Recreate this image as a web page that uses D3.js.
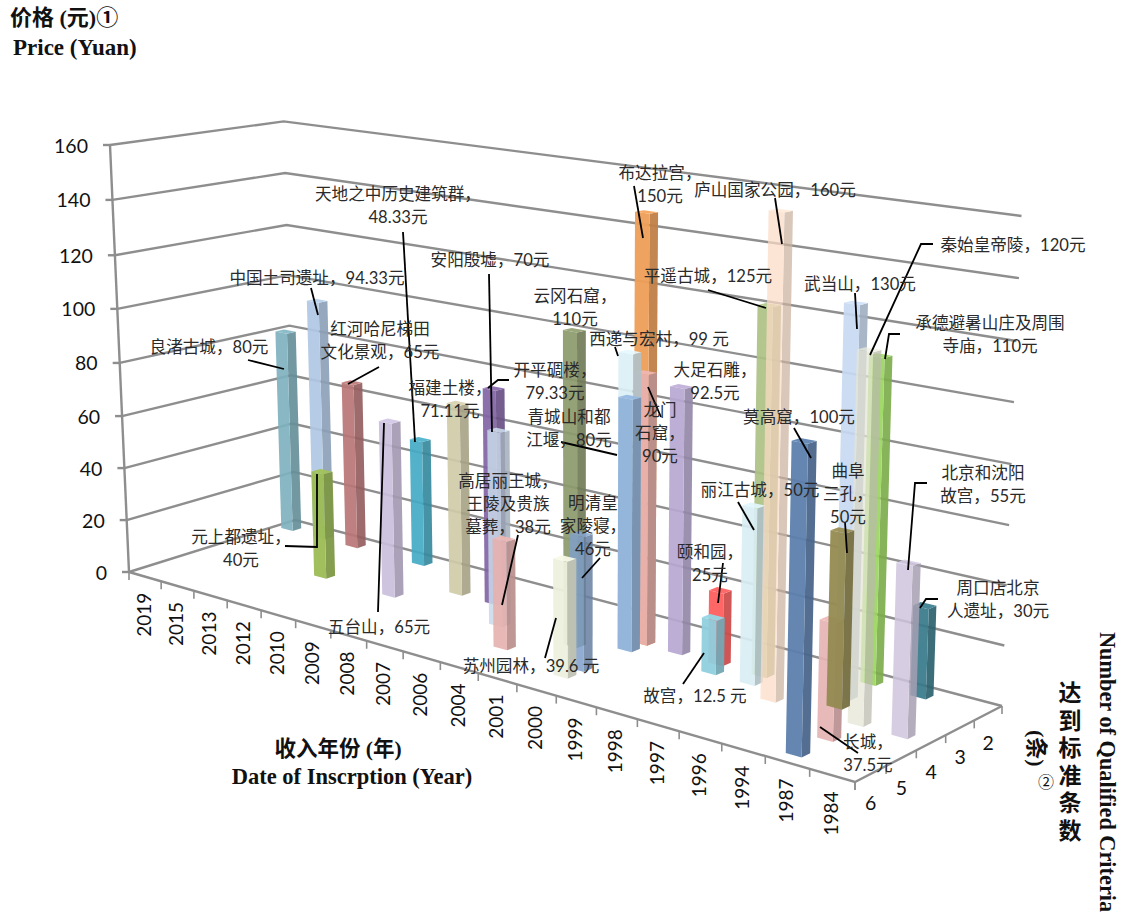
<!DOCTYPE html>
<html><head><meta charset="utf-8">
<script src="https://cdn.jsdelivr.net/npm/d3@7"></script>
<style>html,body{margin:0;background:#fff}svg{display:block}</style></head>
<body><div id="c"></div>
<script>
// ---------- data ----------
const yearCats = ["2019","2015","2013","2012","2010","2009","2008","2007","2006","2004","2001","2000","1999","1998","1997","1996","1994","1987","1984"];
const criteriaCats = ["6","5","4","3","2"];
const priceTicks = [0,20,40,60,80,100,120,140,160];
// bars, listed in drawing order (back to front); heights
const siteNames = ["良渚古城","中国土司遗址","红河哈尼梯田","天地之中","周口店","承德","福建土楼","开平碉楼","布达拉宫","龙门石窟","大足石雕","颐和园","平遥古城","武当山","云冈石窟","西递宏村","青城山","丽江古城","故宫","元上都","五台山","安阳殷墟","庐山","秦始皇帝陵","北京沈阳故宫","高句丽","明清皇家陵寝","苏州园林","长城","曲阜三孔","莫高窟"];
const sitePrices = [80,94.33,65,48.33,30,110,71.11,79.33,150,95,92.5,25,125,130,110,103.5,88,60,18.5,40,65,70,160,120,55,38,46,39.6,37.5,58,97];
const siteYears = ["2019","2015","2013","2010","1987","1994","2008","2007","2000","2000","1999","1998","1997","1994","2001","2000","2000","1997","1998","2012","2009","2006","1996","1987","1984","2004","2000","2000","1987","1994","1987"];
const siteCriteria = ["2","2","2","2","2","2","3","3","3","3","3","3","3","3","4","3","3","3","3","4","4","4","4","4","4","5","5","5","5","3","6"];
const barColors = ["#7fb2c0","#b0c8e4","#b97676","#45abc5","#37798a","#9bd65f","#d0cba9","#8364a6","#ef9f58","#e8b2b0","#b8a8d2","#ff5f5f","#acc285","#c8daf2","#8d9a6c","#dcf0f6","#92b3da","#d9eef4","#90cfde","#9cbc55","#cbbfdd","#c9d9e8","#fcdcc6","#e6e6d6","#cfc5de","#e7b2b0","#7f9fc9","#eef1de","#e7b4b4","#958b52","#5c80ad"];
// layout only: shifts (in bands) for bars sharing a cell, and see-through amount
const depthNudge = [0,0,0,0,0,0,0,0,0,0,0,0,0,0,0,0.5,0.5,0.5,0.5,0,0,0,0,0,0,0,0,0.5,0,0.5,0];
const yearNudge  = [0,0,0,0,0.1,-0.08,0,0,0,0,-0.1,-0.08,0,0,0,0,0,0.08,0.13,0,0,0,-0.05,0,0,0,0,0,0,0.16,0];
const barOpacity = [.92,.92,.92,.92,.92,.92,.92,.92,.95,.92,.92,.95,.92,.92,.92,.92,.95,.92,.95,.95,.92,.85,.72,.72,.85,.92,.85,.95,.92,.95,.95];

// label text (lines), layout kept separately
const labelLines = [
 ["良渚古城，80元"],["中国土司遗址，94.33元"],["红河哈尼梯田","文化景观，65元"],["天地之中历史建筑群，","48.33元"],
 ["安阳殷墟，70元"],["福建土楼，","71.11元"],["开平碉楼，","79.33元"],["青城山和都","江堰，80元"],
 ["高居丽王城，","王陵及贵族","墓葬，38元"],["明清皇","家陵寝，","46元"],["苏州园林，39.6 元"],["云冈石窟，","110元"],
 ["西递与宏村，99 元"],["龙门","石窟，","90元"],["布达拉宫，","150元"],["庐山国家公园，160元"],
 ["平遥古城，125元"],["武当山，130元"],["秦始皇帝陵，120元"],["承德避暑山庄及周围","寺庙，110元"],
 ["大足石雕，","92.5元"],["莫高窟，100元"],["丽江古城，50元"],["曲阜","三孔，","50元"],
 ["北京和沈阳","故宫，55元"],["周口店北京","人遗址，30元"],["颐和园，","25元"],["故宫，12.5 元"],
 ["长城，","37.5元"],["元上都遗址，","40元"],["五台山，65元"]];
const labelAt = [[209,347],[317,278],[380,329],[398,194],[490,260],[450,388],[555,370],[569,417],[508,481],[593,503],[531,666],[575,296],[659,339],[660,410],[660,173],[775,190],[708,276],[860,284],[1013,245],[990,323],[715,370],[799,417],[760,490],[848,471],[983,473],[998,588],[710,552],[695,696],[868,742],[241,537],[379,627]];
const leaders = [
 [[248,360],[284,369]],[[311,288],[318,315]],[[379,367],[348,384]],[[403,232],[415,442]],
 [[489,274],[492,432]],[],[[509,380],[498,380],[488,388]],[[561,442],[617,455]],
 [[518,535],[502,605]],[[600,558],[582,578]],[[556,618],[545,658]],[],
 [[615,347],[618,356]],[[648,387],[661,417]],[[634,186],[643,238]],[[775,198],[782,244]],
 [[708,290],[766,308]],[[855,293],[857,329]],[[933,244],[921,244],[870,355]],[[900,334],[889,334],[885,359]],
 [],[[794,428],[811,458]],[[738,502],[754,530]],[[845,522],[847,553]],
 [[927,483],[915,483],[908,570]],[[938,599],[926,599],[920,608]],[[723,563],[718,603]],[[704,653],[683,684]],
 [[820,727],[858,753]],[[317,474],[317,547],[285,546]],[[384,423],[378,612]]];

// ---------- projection: floor homography + vertical warp ----------
const A=[129,572],B=[855,782],C=[1002,706],D=[295,520];
const sx=A[0]-B[0]+C[0]-D[0], sy=A[1]-B[1]+C[1]-D[1];
const dx1=B[0]-C[0], dx2=D[0]-C[0], dy1=B[1]-C[1], dy2=D[1]-C[1];
const det=dx1*dy2-dx2*dy1;
const g=(sx*dy2-dx2*sy)/det, h=(dx1*sy-sx*dy1)/det;
const a=B[0]-A[0]+g*B[0], b=D[0]-A[0]+h*D[0], d=B[1]-A[1]+g*B[1], e=D[1]-A[1]+h*D[1];
const rx=-0.04, px=110*(1+rx)-A[0], ry=0.1676, py=145*(1+ry)-A[1];
const vxScale=d3.scaleLinear().domain([0,160]).range([0,1]);
const vyScale=d3.scaleLinear().domain(priceTicks).range([0,.106,.216,.33,.451,.579,.711,.853,1]);
function P(u,w,val){
  const W=g*u+h*w+1, X=a*u+b*w+A[0], Y=d*u+e*w+A[1];
  const vx=vxScale(val), vy=vyScale(val);
  return [(X+vx*px)/(W+vx*rx),(Y+vy*py)/(W+vy*ry)];
}
const uBand=d3.scaleBand().domain(yearCats).range([0,1]);
const zBand=d3.scaleBand().domain(criteriaCats).range([0,1]);
const line=d3.line();

const svg=d3.select("#c").append("svg").attr("width",1125).attr("height",915);
const gridC="#8e8e8e";
// walls
const grid=svg.append("g").attr("fill","none").attr("stroke",gridC).attr("stroke-width",2.4);
priceTicks.forEach(t=>{
  grid.append("path").attr("d",line([P(0,0,t),P(0,1,t),P(1,1,t)]));
  const q=P(0,0,t);
  grid.append("path").attr("d",line([[q[0]-7,q[1]],q]));
});
grid.append("path").attr("d",line([P(0,0,0),P(0,0,160)]));
grid.append("path").attr("d",line([P(0,0,0),P(1,0,0),P(1,1,0)]));
// front-edge ticks
[...yearCats.map(y=>uBand(y)),1].forEach(t=>{const q=P(t,0,0);grid.append("path").attr("stroke-width",1.6).attr("d",line([q,[q[0],q[1]+8]]));});
[...criteriaCats.map(c=>zBand(c)),1].forEach(t=>{const q=P(1,t,0);grid.append("path").attr("stroke-width",1.6).attr("d",line([q,[q[0],q[1]+8]]));});

const tick=svg.append("g").attr("font-family","Lato,'Open Sans',sans-serif").attr("font-size",19.5).attr("fill","#111");
priceTicks.forEach(t=>{const q=P(0,0,t);tick.append("text").attr("x",q[0]-22).attr("y",q[1]).attr("text-anchor","end").attr("dominant-baseline","central").text(t);});
yearCats.forEach(y=>{const q=P(uBand(y)+uBand.bandwidth()/2,0,0);
  tick.append("text").attr("transform",`translate(${q[0]-2},${q[1]+16}) rotate(-90)`).attr("text-anchor","end").attr("dominant-baseline","central").attr("font-size",19).text(y);});
criteriaCats.forEach(c=>{const q=P(1,zBand(c)+zBand.bandwidth()/2,0);
  tick.append("text").attr("x",q[0]).attr("y",q[1]+29).attr("text-anchor","middle").attr("dominant-baseline","central").text(c);});

// bars
const uW=uBand.bandwidth()*0.18, zW=zBand.bandwidth()*0.135, uShift=uBand.bandwidth()*0.12;
const bars=svg.append("g");
siteNames.forEach((n,i)=>{
  const cu=uBand(siteYears[i])+uBand.bandwidth()/2-uShift+yearNudge[i]*uBand.bandwidth();
  const cz=zBand(siteCriteria[i])+zBand.bandwidth()/2-depthNudge[i]*zBand.bandwidth();
  const v=sitePrices[i], c=d3.color(barColors[i]);
  const u0=cu-uW,u1=cu+uW,z0=cz-zW,z1=cz+zW;
  const gg=bars.append("g").attr("opacity",barOpacity[i]).attr("data-name",n);
  gg.append("path").attr("fill",c.darker(0.6)).attr("d",line([P(u1,z0,0),P(u1,z1,0),P(u1,z1,v),P(u1,z0,v)])+"Z");
  gg.append("path").attr("fill",c.brighter(0.1)).attr("d",line([P(u0,z0,v),P(u1,z0,v),P(u1,z1,v),P(u0,z1,v)])+"Z");
  gg.append("path").attr("fill",c).attr("d",line([P(u0,z0,0),P(u1,z0,0),P(u1,z0,v),P(u0,z0,v)])+"Z");
});

// leaders and labels
const lab=svg.append("g");
leaders.forEach(l=>{if(l.length)lab.append("path").attr("d",line(l)).attr("fill","none").attr("stroke","#000").attr("stroke-width",1.8);});
const lt=lab.append("g").attr("font-family","Lato,'Noto Sans CJK SC',sans-serif").attr("font-size",16.6).attr("fill","#2a2a2a").attr("text-anchor","middle");
labelLines.forEach((ls,i)=>ls.forEach((s,j)=>lt.append("text").attr("x",labelAt[i][0]).attr("y",labelAt[i][1]+j*23).attr("dominant-baseline","central").text(s)));

// titles
const serif="'Liberation Serif','Noto Sans CJK SC',serif";
const ti=svg.append("g").attr("font-family",serif).attr("font-weight","bold").attr("fill","#111").attr("font-size",22.5);
ti.append("text").attr("x",10).attr("y",25).attr("font-size",22).text("价格 (元)①");
ti.append("text").attr("x",13).attr("y",55).attr("font-size",23).text("Price (Yuan)");
ti.append("text").attr("x",338).attr("y",756).attr("text-anchor","middle").attr("font-size",21.5).text("收入年份 (年)");
ti.append("text").attr("x",352).attr("y",784).attr("text-anchor","middle").text("Date of Inscrption (Year)");
ti.append("text").attr("transform","translate(1100,632) rotate(90)").attr("font-size",22.3).text("Number of Qualified Criteria");
Array.from("达到标准条数").forEach((ch,i)=>ti.append("text").attr("x",1070).attr("y",701+i*27.5).attr("text-anchor","middle").attr("font-size",23).text(ch));
ti.append("text").attr("transform","translate(1029,730) rotate(90)").attr("font-size",22).text("(条)");
ti.append("text").attr("x",1046).attr("y",788).attr("text-anchor","middle").attr("font-size",16).attr("font-weight","normal").text("②");
</script></body></html>
